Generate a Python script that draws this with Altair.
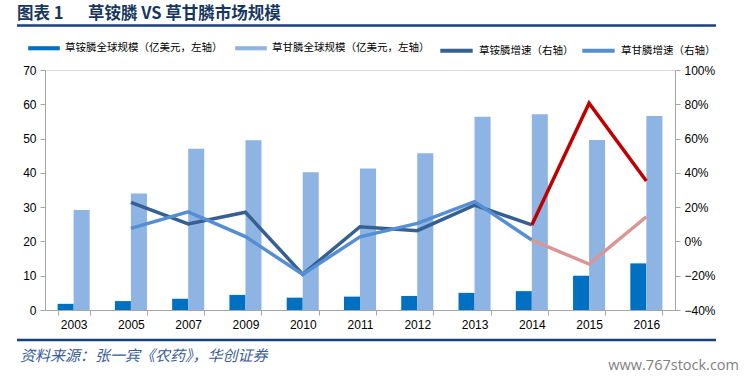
import altair as alt
import pandas as pd

years = ["2003", "2005", "2007", "2009", "2010", "2011", "2012", "2013", "2014", "2015", "2016"]
glufosinate_size = [1.8, 2.6, 3.3, 4.4, 3.6, 3.9, 4.1, 5.0, 5.5, 10.0, 13.6]
glyphosate_size = [29.2, 34.0, 47.0, 49.5, 40.2, 41.3, 45.7, 56.4, 57.1, 49.6, 56.6]
glufosinate_growth = [None, 0.228, 0.102, 0.170, -0.192, 0.086, 0.063, 0.212, 0.096, 0.806, 0.352]
glyphosate_growth = [None, 0.076, 0.173, 0.028, -0.192, 0.027, 0.105, 0.232, 0.008, -0.132, 0.144]

bar_names = ["草铵膦全球规模（亿美元，左轴）", "草甘膦全球规模（亿美元，左轴）"]
line_names = ["草铵膦增速（右轴）", "草甘膦增速（右轴）"]
fore_names = ["草铵膦增速（预测）", "草甘膦增速（预测）"]
split_year = "2014"

bar_rows = []
for i, y in enumerate(years):
    bar_rows.append({"year": y, "series": bar_names[0], "value": glufosinate_size[i]})
    bar_rows.append({"year": y, "series": bar_names[1], "value": glyphosate_size[i]})
bars_df = pd.DataFrame(bar_rows)

line_rows = []
split_idx = years.index(split_year)
for name, fore, vals in [(line_names[0], fore_names[0], glufosinate_growth),
                         (line_names[1], fore_names[1], glyphosate_growth)]:
    for i, y in enumerate(years):
        if vals[i] is None:
            continue
        if i <= split_idx:
            line_rows.append({"year": y, "series": name, "value": vals[i], "order": i})
        if i >= split_idx:
            line_rows.append({"year": y, "series": fore, "value": vals[i], "order": i})
lines_df = pd.DataFrame(line_rows)

FONT = "Liberation Sans"
CJK = "Noto Sans CJK SC"

x_enc = alt.X("year:N", sort=years, title=None,
              scale=alt.Scale(paddingInner=0.44, paddingOuter=0.22),
              axis=alt.Axis(labelAngle=0, domainColor="#A6A6A6", tickColor="#A6A6A6",
                            tickBand="extent", tickSize=5, labelPadding=4,
                            labelFont=FONT, labelFontSize=12, labelColor="#000000",
                            grid=False, labelFlush=False))

bars = alt.Chart(bars_df).mark_bar().encode(
    x=x_enc,
    xOffset=alt.XOffset("series:N", sort=bar_names),
    y=alt.Y("value:Q", title=None,
            scale=alt.Scale(domain=[0, 70], nice=False, zero=True),
            axis=alt.Axis(values=[0, 10, 20, 30, 40, 50, 60, 70], orient="left",
                          domainColor="#A6A6A6", tickColor="#A6A6A6", tickSize=5,
                          labelFont=FONT, labelFontSize=12, labelColor="#000000",
                          labelPadding=4, grid=False)),
    color=alt.Color("series:N", sort=bar_names,
                    scale=alt.Scale(domain=bar_names, range=["#0070C0", "#8EB4E3"]),
                    legend=alt.Legend(title=None, orient="none", direction="horizontal",
                                      legendX=-17, legendY=-38, columnPadding=12,
                                      labelFont=CJK, labelFontSize=10.5, labelColor="#000000",
                                      labelOffset=5, symbolType="M-1,-0.13H1V0.13H-1Z",
                                      symbolSize=1000, symbolStrokeWidth=0)),
)

lines = alt.Chart(lines_df).mark_line(strokeWidth=3.5).encode(
    x=alt.X("year:N", sort=years),
    y=alt.Y("value:Q", title=None,
            scale=alt.Scale(domain=[-0.4, 1.0], nice=False, zero=False),
            axis=alt.Axis(values=[-0.4, -0.2, 0, 0.2, 0.4, 0.6, 0.8, 1.0], format=".0%",
                          orient="right", domainColor="#A6A6A6", tickColor="#A6A6A6",
                          tickSize=5, labelFont=FONT, labelFontSize=12,
                          labelColor="#000000", labelPadding=4, grid=False)),
    color=alt.Color("series:N",
                    scale=alt.Scale(domain=line_names + fore_names,
                                    range=["#376092", "#558ED5", "#C00000", "#D99694"]),
                    legend=alt.Legend(title=None, orient="none", direction="horizontal",
                                      values=line_names,
                                      legendX=393, legendY=-38, columnPadding=0,
                                      labelFont=CJK, labelFontSize=10.5, labelColor="#000000",
                                      labelOffset=4, symbolType="stroke",
                                      symbolSize=1050, symbolStrokeWidth=4)),
    order="order:Q",
)

one = pd.DataFrame({"k": [0]})
title_a = alt.Chart(one).mark_text(align="left", baseline="middle", font=CJK,
                                   fontSize=16.5, fontWeight="bold", color="#17375E").encode(
    x=alt.value(-28), y=alt.value(-56.5), text=alt.value("图表 1"))
title_b = alt.Chart(one).mark_text(align="left", baseline="middle", font=CJK,
                                   fontSize=16.5, fontWeight="bold", color="#17375E").encode(
    x=alt.value(43), y=alt.value(-56.5), text=alt.value("草铵膦 VS 草甘膦市场规模"))
title_rule = alt.Chart(one).mark_rule(color="#16407E", strokeWidth=2.5).encode(
    x=alt.value(-28), x2=alt.value(671), y=alt.value(-44.5))
foot_rule = alt.Chart(one).mark_rule(color="#16407E", strokeWidth=2.5).encode(
    x=alt.value(-28), x2=alt.value(671), y=alt.value(270))
foot_txt = alt.Chart(one).mark_text(align="left", baseline="middle", font=CJK,
                                    fontSize=15, fontStyle="italic", color="#3A5E98").encode(
    x=alt.value(-25), y=alt.value(285.5), text=alt.value("资料来源：张一宾《农药》，华创证券"))
wm_txt = alt.Chart(one).mark_text(align="right", baseline="middle", font="Open Sans",
                                  fontSize=14.5, color="#7F7F7F").encode(
    x=alt.value(694), y=alt.value(296), text=alt.value("www.767stock.com"))

chart = alt.layer(bars, lines, title_a, title_b, title_rule, foot_rule, foot_txt, wm_txt).resolve_scale(
    y="independent", color="independent"
).properties(
    width=630, height=240,
    autosize=alt.AutoSizeParams(type="none"),
    padding={"left": 45, "top": 70, "right": 71, "bottom": 67},
).configure_view(stroke=None).configure(background="white")

chart.save("out.html", embed_options={"renderer": "svg", "actions": False})
